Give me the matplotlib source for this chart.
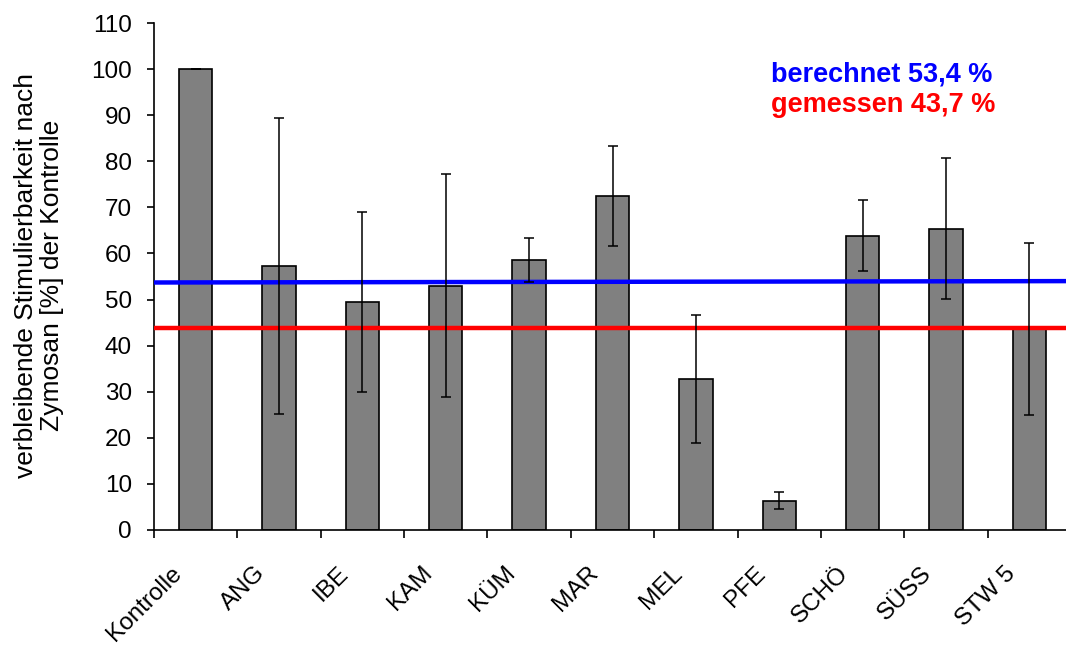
import matplotlib
matplotlib.use("Agg")
import matplotlib.pyplot as plt
import numpy as np

categories = ["Kontrolle", "ANG", "IBE", "KAM", "KÜM", "MAR", "MEL", "PFE", "SCHÖ", "SÜSS", "STW 5"]
values = [100.0, 57.3, 49.5, 53.0, 58.6, 72.5, 32.7, 6.3, 63.8, 65.4, 43.7]
errors = [0.0, 32.1, 19.5, 24.2, 4.8, 10.8, 13.9, 1.85, 7.7, 15.3, 18.65]
berechnet_line = [53.7, 54.0]
gemessen_line = [43.85, 43.85]
yticks = list(range(0, 111, 10))

plt.rcParams['font.family'] = ['Liberation Sans', 'DejaVu Sans']

fig = plt.figure(figsize=(10.66, 6.47), dpi=100)
W, H = 1066, 647
ax = fig.add_axes([154 / W, 117 / H, 917 / W, 507 / H])

x = np.arange(len(categories))
ax.bar(x, values, width=0.4, color="#808080", edgecolor="black", linewidth=1.2, zorder=2)
ax.plot([-0.5, len(categories) - 0.5], berechnet_line, color="#0000ff", linewidth=3.2, zorder=3)
ax.plot([-0.5, len(categories) - 0.5], gemessen_line, color="#ff0000", linewidth=3.2, zorder=3)
ax.errorbar(x, values, yerr=errors, fmt="none", ecolor="black", elinewidth=1.1,
            capsize=3.5, capthick=1.1, zorder=4)

ax.set_xlim(-0.5, len(categories) - 0.5)
ax.set_ylim(0, 110)
ax.set_yticks(yticks)
ax.set_yticklabels([str(t) for t in yticks], fontsize=17.5)
ax.tick_params(axis="y", direction="out", length=5, width=1.2, pad=11)

ax.set_xticks(np.arange(len(categories)) - 0.5, minor=False)
ax.set_xticklabels([])
ax.tick_params(axis="x", direction="out", length=6, width=1.2)
for xi, lab in zip(x, categories):
    ax.text(xi - 0.3, -7.0, lab, rotation=45, ha="right", va="top", fontsize=17.5,
            rotation_mode="anchor", transform=ax.transData, clip_on=False)

for s in ["top", "right"]:
    ax.spines[s].set_visible(False)
ax.spines["left"].set_linewidth(1.2)
ax.spines["bottom"].set_linewidth(1.2)

fig.text(39 / W, 1 - 275 / H, "verbleibende Stimulierbarkeit nach\nZymosan [%] der Kontrolle",
         rotation=90, ha="center", va="center", multialignment="center", fontsize=19,
         linespacing=1.1)

fig.text(771 / W, 1 - 82 / H, "berechnet 53,4 %", color="#0000ff", fontsize=19.5,
         fontweight="bold", ha="left", va="baseline")
fig.text(771 / W, 1 - 112 / H, "gemessen 43,7 %", color="#ff0000", fontsize=19.5,
         fontweight="bold", ha="left", va="baseline")

fig.savefig("out.png", dpi=100)
